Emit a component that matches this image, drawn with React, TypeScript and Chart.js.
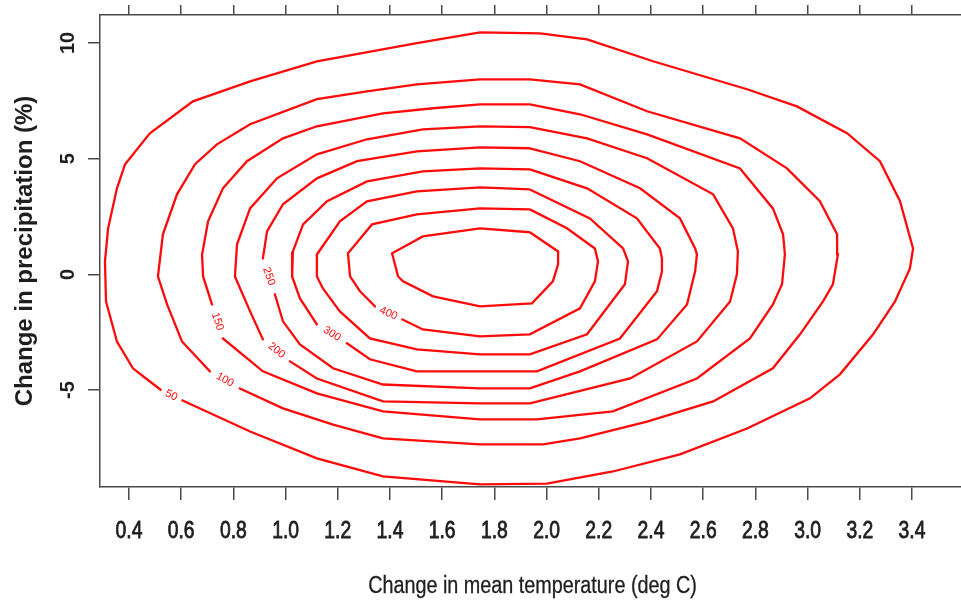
import React, { useEffect, useRef } from "react";
import { Chart, registerables } from "chart.js";

Chart.register(...registerables);

type P = [number, number];

const levels = [50, 100, 150, 200, 250, 300, 350, 400, 450];
const xTicks = [0.4, 0.6, 0.8, 1.0, 1.2, 1.4, 1.6, 1.8, 2.0, 2.2, 2.4, 2.6, 2.8, 3.0, 3.2, 3.4];
const yTicks = [-5, 0, 5, 10];
const xTitle = "Change in mean temperature (deg C)";
const yTitle = "Change in precipitation (%)";

const c50: P[] = [
  [1.975, 10.42], [1.745, 10.46], [1.503, 9.99], [1.12, 9.21], [0.864, 8.34], [0.645, 7.48],
  [0.48, 6.1], [0.385, 4.76], [0.354, 3.72], [0.32, 1.99], [0.308, 0.56], [0.312, -1.17],
  [0.354, -2.9], [0.415, -4.06], [0.48, -4.63], [0.53, -5.06], [0.595, -5.4], [0.864, -6.79],
  [1.12, -7.95], [1.373, -8.73], [1.745, -9.08], [2.001, -9.04], [2.254, -8.52], [2.511, -7.78],
  [2.768, -6.66], [3.009, -5.36], [3.124, -4.32], [3.251, -2.59], [3.335, -1.17], [3.392, 0.26],
  [3.404, 1.12], [3.354, 3.16], [3.277, 4.89], [3.151, 6.1], [2.959, 7.26], [2.768, 8.0],
  [2.408, 9.21], [2.155, 10.16],
];
const c100: P[] = [
  [1.936, 8.43], [1.745, 8.43], [1.503, 8.21], [1.312, 7.91], [1.12, 7.57], [0.864, 6.49],
  [0.737, 5.62], [0.653, 4.76], [0.584, 3.46], [0.53, 1.73], [0.511, -0.09], [0.546, -1.3],
  [0.603, -2.9], [0.71, -4.19], [0.825, -4.93], [0.99, -5.79], [1.182, -6.49], [1.373, -7.09],
  [1.745, -7.35], [1.986, -7.35], [2.128, -7.09], [2.385, -6.36], [2.638, -5.49], [2.867, -4.06],
  [2.971, -2.59], [3.059, -1.17], [3.097, -0.43], [3.116, 0.86], [3.113, 1.73], [3.047, 3.16],
  [2.921, 4.58], [2.741, 5.88], [2.385, 7.05], [2.128, 8.21],
];
const c150: P[] = [
  [1.936, 7.35], [1.745, 7.35], [1.565, 7.18], [1.373, 6.96], [1.12, 6.4], [0.99, 5.88],
  [0.852, 4.89], [0.76, 3.72], [0.703, 2.29], [0.68, 0.86], [0.684, -0.09], [0.718, -1.3],
  [0.76, -2.77], [0.913, -4.19], [1.12, -5.14], [1.373, -5.92], [1.745, -6.27], [1.963, -6.27],
  [2.254, -5.92], [2.576, -4.5], [2.779, -2.77], [2.867, -1.3], [2.902, -0.43], [2.913, 0.86],
  [2.906, 1.73], [2.867, 2.85], [2.741, 4.58], [2.385, 6.05], [2.128, 6.92],
];
const c200: P[] = [
  [1.936, 6.36], [1.745, 6.4], [1.526, 6.27], [1.312, 5.84], [1.12, 5.19], [0.967, 4.15],
  [0.864, 2.85], [0.814, 1.3], [0.806, -0.09], [0.864, -1.6], [0.913, -2.81], [1.017, -3.76],
  [1.12, -4.5], [1.373, -5.49], [1.745, -5.58], [1.936, -5.58], [2.32, -4.5], [2.576, -2.9],
  [2.703, -1.17], [2.729, 0.0], [2.733, 0.99], [2.714, 1.99], [2.638, 3.46], [2.385, 5.02],
  [2.155, 5.88],
];
const c250: P[] = [
  [1.936, 5.45], [1.745, 5.49], [1.503, 5.32], [1.274, 4.89], [1.12, 4.15], [0.99, 3.03],
  [0.929, 1.86], [0.913, 0.69], [0.959, -0.86], [0.99, -2.03], [1.055, -3.03], [1.182, -4.06],
  [1.373, -4.76], [1.745, -4.93], [1.936, -4.93], [2.128, -4.19], [2.423, -2.81], [2.538, -1.3],
  [2.569, 0.13], [2.576, 0.86], [2.569, 1.12], [2.511, 2.42], [2.358, 3.72], [2.128, 4.89],
];
const c300: P[] = [
  [1.936, 4.54], [1.745, 4.58], [1.526, 4.45], [1.312, 4.02], [1.159, 3.16], [1.067, 2.16],
  [1.028, 0.99], [1.025, -0.09], [1.055, -1.04], [1.12, -2.16], [1.235, -2.98], [1.323, -3.67],
  [1.503, -4.19], [1.745, -4.19], [1.963, -4.19], [2.281, -2.77], [2.423, -0.73], [2.442, 0.13],
  [2.442, 0.69], [2.434, 1.12], [2.346, 2.42], [2.155, 3.72],
];
const c350: P[] = [
  [1.936, 3.67], [1.745, 3.76], [1.503, 3.59], [1.312, 3.16], [1.208, 2.29], [1.12, 0.86],
  [1.12, -0.09], [1.143, -0.61], [1.208, -1.6], [1.323, -2.77], [1.503, -3.24], [1.745, -3.46],
  [1.936, -3.46], [2.155, -2.59], [2.3, -0.43], [2.312, 0.56], [2.293, 1.12], [2.166, 2.42],
];
const c400: P[] = [
  [1.936, 2.81], [1.745, 2.85], [1.503, 2.59], [1.331, 2.16], [1.239, 0.91], [1.247, -0.09],
  [1.285, -0.73], [1.35, -1.47], [1.438, -1.9], [1.526, -2.38], [1.745, -2.68], [1.936, -2.59],
  [2.128, -1.47], [2.185, -0.3], [2.197, 0.56], [2.185, 1.12], [2.078, 1.99],
];
const c450: P[] = [
  [1.936, 1.82], [1.745, 1.99], [1.526, 1.64], [1.408, 0.91], [1.431, -0.09], [1.45, -0.3],
  [1.565, -0.95], [1.745, -1.38], [1.944, -1.25], [2.024, -0.3], [2.044, 0.43], [2.044, 0.99],
];

const contours: P[][] = [c50, c100, c150, c200, c250, c300, c350, c400, c450];
// segment (start index) along which each contour's label is written; -1 = unlabeled
const labelSegments = [15, 13, 11, 10, 7, 9, -1, 7, -1];

const X_MIN = 0.289;
const X_MAX = 3.603;
const Y_MIN = -9.19;
const Y_MAX = 11.21;

const AXIS_COLOR = "#4a4a4a";
const TEXT_COLOR = "#1e1e1e";
const LINE_COLOR = "#ff0a0a";

const textPlugin = {
  id: "contourText",
  afterDatasetsDraw(chart: any) {
    const { ctx } = chart;
    const xs = chart.scales.x;
    const ys = chart.scales.y;
    ctx.save();
    ctx.beginPath();
    ctx.rect(chart.chartArea.left, chart.chartArea.top, chart.chartArea.width, chart.chartArea.height);
    ctx.clip();
    ctx.font = '11px "Liberation Sans", Arial, sans-serif';
    contours.forEach((pts, i) => {
      const s = labelSegments[i];
      if (s < 0) return;
      const a = pts[s];
      const b = pts[s + 1];
      const ax = xs.getPixelForValue(a[0]);
      const ay = ys.getPixelForValue(a[1]);
      const bx = xs.getPixelForValue(b[0]);
      const by = ys.getPixelForValue(b[1]);
      let ang = Math.atan2(by - ay, bx - ax);
      if (ang > Math.PI / 2) ang -= Math.PI;
      if (ang < -Math.PI / 2) ang += Math.PI;
      const seg = Math.hypot(bx - ax, by - ay);
      const txt = String(levels[i]);
      const w = ctx.measureText(txt).width;
      ctx.save();
      ctx.translate((ax + bx) / 2, (ay + by) / 2);
      ctx.rotate(ang);
      ctx.fillStyle = "#ffffff";
      const gw = Math.max(w + 10, seg - 2);
      ctx.fillRect(-gw / 2, -5, gw, 10);
      ctx.fillStyle = LINE_COLOR;
      ctx.textAlign = "center";
      ctx.textBaseline = "middle";
      ctx.fillText(txt, 0, 0);
      ctx.restore();
    });
    ctx.restore();
  },
  afterDraw(chart: any) {
    const { ctx, chartArea } = chart;
    const xs = chart.scales.x;
    const ys = chart.scales.y;
    ctx.save();
    ctx.fillStyle = TEXT_COLOR;
    ctx.strokeStyle = TEXT_COLOR;
    ctx.textAlign = "center";
    ctx.textBaseline = "middle";
    // x tick labels (condensed, medium weight)
    ctx.font = '23px "Liberation Sans", Arial, sans-serif';
    ctx.lineWidth = 0.8;
    xTicks.forEach((v) => {
      const px = xs.getPixelForValue(v);
      ctx.save();
      ctx.translate(px, 532);
      ctx.scale(0.84, 1);
      ctx.fillText(v.toFixed(1), 0, 0);
      ctx.strokeText(v.toFixed(1), 0, 0);
      ctx.restore();
    });
    // x title (condensed)
    ctx.font = '23px "Liberation Sans", Arial, sans-serif';
    ctx.lineWidth = 0.3;
    ctx.save();
    ctx.translate((chartArea.left + chartArea.right) / 2, 587);
    ctx.scale(0.86, 1);
    ctx.fillText(xTitle, 0, 0);
    ctx.strokeText(xTitle, 0, 0);
    ctx.restore();
    // y tick labels (rotated)
    ctx.font = 'bold 20px "Liberation Sans", Arial, sans-serif';
    yTicks.forEach((v) => {
      const py = ys.getPixelForValue(v);
      ctx.save();
      ctx.translate(68, py);
      ctx.rotate(-Math.PI / 2);
      ctx.fillText(String(v), 0, 0);
      ctx.restore();
    });
    ctx.restore();
  },
};

export default function App() {
  const ref = useRef<HTMLCanvasElement | null>(null);
  useEffect(() => {
    if (!ref.current) return;
    const datasets = contours.map((pts, i) => ({
      label: String(levels[i]),
      data: pts.concat([pts[0]]).map(([x, y]) => ({ x, y })),
      showLine: true,
      borderColor: LINE_COLOR,
      backgroundColor: LINE_COLOR,
      borderWidth: 2.3,
      pointRadius: 0,
      pointHoverRadius: 0,
      fill: false,
      tension: 0,
    }));
    const chart = new Chart(ref.current, {
      type: "scatter",
      data: { datasets },
      options: {
        animation: false,
        responsive: false,
        devicePixelRatio: 1,
        events: [],
        layout: { padding: { left: 0, right: 5, top: 0, bottom: 0 } },
        plugins: { legend: { display: false }, tooltip: { enabled: false } },
        scales: {
          x: {
            type: "linear",
            position: "bottom",
            min: X_MIN,
            max: X_MAX,
            afterBuildTicks: (s: any) => {
              s.ticks = xTicks.map((v) => ({ value: v }));
            },
            afterFit: (s: any) => {
              s.height = 114;
            },
            ticks: { display: false },
            grid: { drawOnChartArea: false, drawTicks: true, tickLength: 13, color: AXIS_COLOR, lineWidth: 1.5 },
            border: { display: true, color: AXIS_COLOR, width: 1.5 },
          },
          x2: {
            type: "linear",
            position: "top",
            min: X_MIN,
            max: X_MAX,
            afterBuildTicks: (s: any) => {
              s.ticks = xTicks.map((v) => ({ value: v }));
            },
            afterFit: (s: any) => {
              s.height = 15;
            },
            ticks: { display: false },
            grid: { drawOnChartArea: false, drawTicks: true, tickLength: 10, color: AXIS_COLOR, lineWidth: 1.5 },
            border: { display: true, color: AXIS_COLOR, width: 1.5 },
          },
          y: {
            type: "linear",
            position: "left",
            min: Y_MIN,
            max: Y_MAX,
            afterBuildTicks: (s: any) => {
              s.ticks = yTicks.map((v) => ({ value: v }));
            },
            afterFit: (s: any) => {
              s.width = 100;
            },
            ticks: { display: false },
            grid: { drawOnChartArea: false, drawTicks: true, tickLength: 12, color: AXIS_COLOR, lineWidth: 1.5 },
            border: { display: true, color: AXIS_COLOR, width: 1.5 },
            title: {
              display: true,
              text: yTitle,
              color: TEXT_COLOR,
              font: { family: '"Liberation Sans", Arial, sans-serif', size: 24, weight: "bold" },
              padding: { top: 11, bottom: 0 },
            },
          },
        },
      },
      plugins: [textPlugin],
    });
    return () => chart.destroy();
  }, []);
  return (
    <div style={{ position: "fixed", left: 0, top: 0, width: 961, height: 601, overflow: "hidden", background: "#fff" }}>
      <canvas ref={ref} width={970} height={601} style={{ display: "block" }} />
    </div>
  );
}
